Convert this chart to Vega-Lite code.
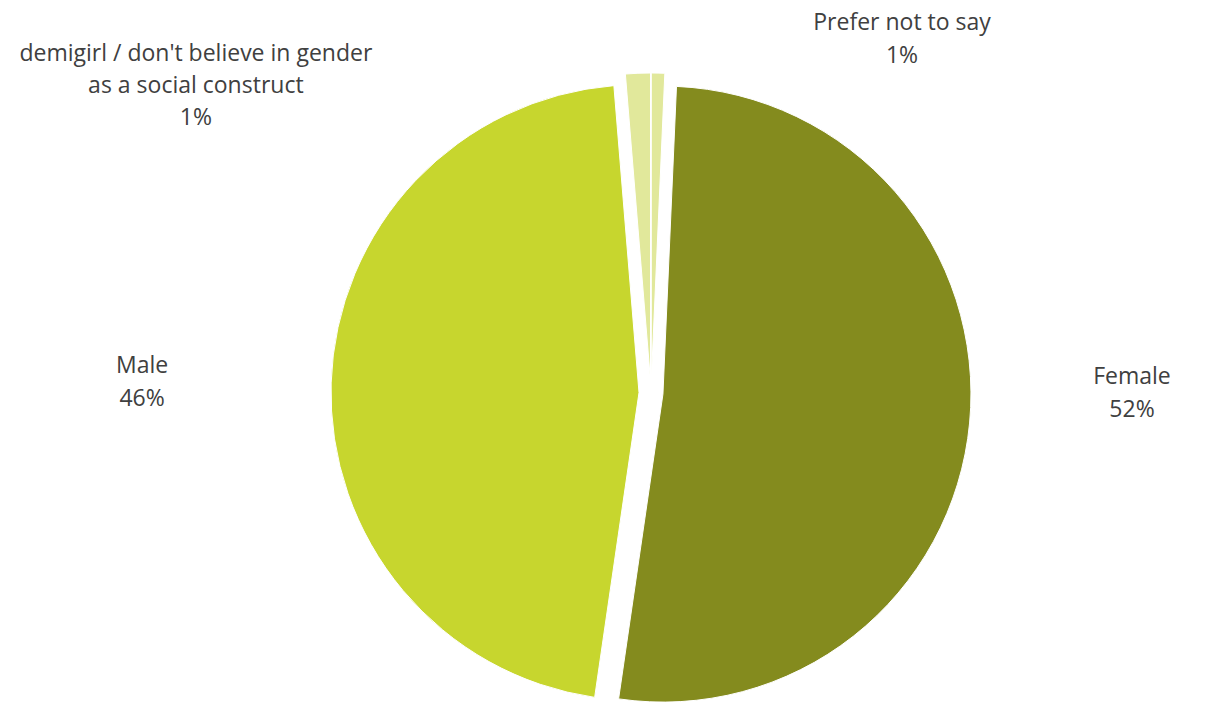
{
  "$schema": "https://vega.github.io/schema/vega-lite/v6.json",
  "width": 1136,
  "height": 620,
  "autosize": {"type": "none"},
  "padding": {"left": 83, "top": 83, "right": 0, "bottom": 0},
  "background": "white",
  "config": {
    "view": {"stroke": null},
    "text": {"font": "Open Sans", "fontSize": 23, "fill": "#404040", "baseline": "middle", "align": "center", "lineHeight": 32}
  },
  "data": {
    "values": [
      {"gender": "Prefer not to say", "share": 0.007},
      {"gender": "Female", "share": 0.516},
      {"gender": "Male", "share": 0.464},
      {"gender": "demigirl / don't believe in gender\nas a social construct", "share": 0.013}
    ]
  },
  "transform": [
    {"window": [{"op": "row_number", "as": "idx"}]},
    {"stack": "share", "groupby": [], "sort": [{"field": "idx", "order": "ascending"}], "as": ["s0", "s1"]}
  ],
  "encoding": {
    "color": {
      "field": "gender",
      "type": "nominal",
      "scale": {
        "domain": ["Prefer not to say", "Female", "Male", "demigirl / don't believe in gender\nas a social construct"],
        "range": ["#E1E89B", "#848B1E", "#C7D62E", "#E1E89B"]
      },
      "legend": null
    }
  },
  "layer": [
    {
      "transform": [{"filter": "datum.idx === 1"}],
      "mark": {"type": "arc", "outerRadius": 308, "stroke": "white", "strokeWidth": 1, "xOffset": 0.3, "yOffset": -12},
      "encoding": {"theta": {"field": "s0", "type": "quantitative", "stack": null, "scale": {"domain": [0, 1]}}, "theta2": {"field": "s1"}}
    },
    {
      "transform": [{"filter": "datum.idx === 2"}],
      "mark": {"type": "arc", "outerRadius": 308, "stroke": "white", "strokeWidth": 1, "xOffset": 11.95, "yOffset": 1.1},
      "encoding": {"theta": {"field": "s0", "type": "quantitative", "stack": null}, "theta2": {"field": "s1"}}
    },
    {
      "transform": [{"filter": "datum.idx === 3"}],
      "mark": {"type": "arc", "outerRadius": 308, "stroke": "white", "strokeWidth": 1, "xOffset": -12, "yOffset": -0.4},
      "encoding": {"theta": {"field": "s0", "type": "quantitative", "stack": null}, "theta2": {"field": "s1"}}
    },
    {
      "transform": [{"filter": "datum.idx === 4"}],
      "mark": {"type": "arc", "outerRadius": 308, "stroke": "white", "strokeWidth": 1, "xOffset": -0.5, "yOffset": -12},
      "encoding": {"theta": {"field": "s0", "type": "quantitative", "stack": null}, "theta2": {"field": "s1"}}
    },
    {
      "transform": [{"filter": "datum.idx === 1"}],
      "mark": {"type": "text", "radius": 434, "thetaOffset": 0.6168, "dy": -16},
      "encoding": {"theta": {"field": "s0", "type": "quantitative", "stack": null}, "text": {"field": "gender"}, "color": {"value": "#404040"}}
    },
    {
      "transform": [{"filter": "datum.idx === 1"}],
      "mark": {"type": "text", "radius": 434, "thetaOffset": 0.6168, "dy": 17},
      "encoding": {"theta": {"field": "s0", "type": "quantitative", "stack": null}, "text": {"field": "share", "type": "quantitative", "format": ".0%"}, "color": {"value": "#404040"}}
    },
    {
      "transform": [{"filter": "datum.idx === 2"}],
      "mark": {"type": "text", "radius": 481, "thetaOffset": 1.5258, "dy": -16},
      "encoding": {"theta": {"field": "s0", "type": "quantitative", "stack": null}, "text": {"field": "gender"}, "color": {"value": "#404040"}}
    },
    {
      "transform": [{"filter": "datum.idx === 2"}],
      "mark": {"type": "text", "radius": 481, "thetaOffset": 1.5258, "dy": 17},
      "encoding": {"theta": {"field": "s0", "type": "quantitative", "stack": null}, "text": {"field": "share", "type": "quantitative", "format": ".0%"}, "color": {"value": "#404040"}}
    },
    {
      "transform": [{"filter": "datum.idx === 3"}],
      "mark": {"type": "text", "radius": 509, "thetaOffset": 1.4479, "dy": -16},
      "encoding": {"theta": {"field": "s0", "type": "quantitative", "stack": null}, "text": {"field": "gender"}, "color": {"value": "#404040"}}
    },
    {
      "transform": [{"filter": "datum.idx === 3"}],
      "mark": {"type": "text", "radius": 509, "thetaOffset": 1.4479, "dy": 17},
      "encoding": {"theta": {"field": "s0", "type": "quantitative", "stack": null}, "text": {"field": "share", "type": "quantitative", "format": ".0%"}, "color": {"value": "#404040"}}
    },
    {
      "transform": [{"filter": "datum.idx === 4"}],
      "mark": {"type": "text", "radius": 549, "thetaOffset": -0.8957, "dy": -32, "lineBreak": "\n"},
      "encoding": {"theta": {"field": "s0", "type": "quantitative", "stack": null}, "text": {"field": "gender"}, "color": {"value": "#404040"}}
    },
    {
      "transform": [{"filter": "datum.idx === 4"}],
      "mark": {"type": "text", "radius": 549, "thetaOffset": -0.8957, "dy": 32},
      "encoding": {"theta": {"field": "s0", "type": "quantitative", "stack": null}, "text": {"field": "share", "type": "quantitative", "format": ".0%"}, "color": {"value": "#404040"}}
    }
  ]
}
